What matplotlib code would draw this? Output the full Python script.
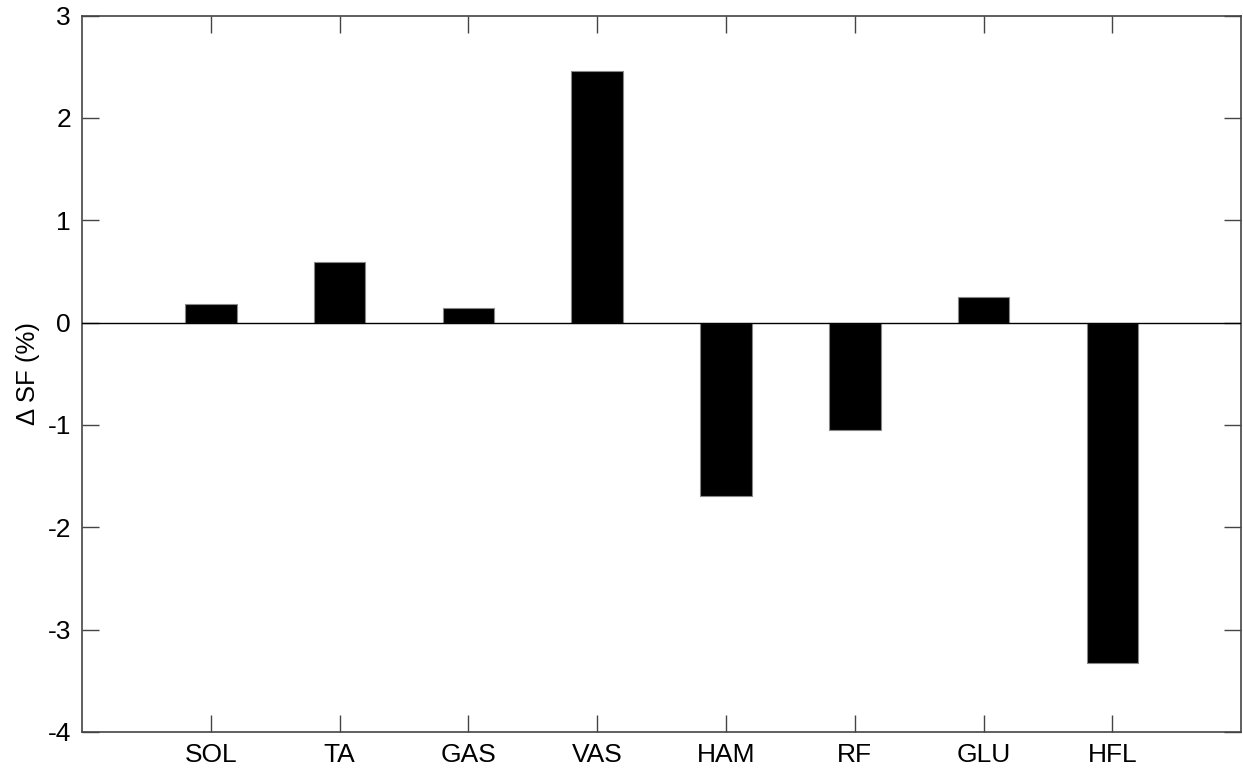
import numpy as np
import matplotlib.pyplot as plt

plt.rcParams['font.family'] = ['Liberation Sans', 'DejaVu Sans']
plt.rcParams['axes.unicode_minus'] = False

muscles = ['SOL', 'TA', 'GAS', 'VAS', 'HAM', 'RF', 'GLU', 'HFL']
delta_sf = [0.18, 0.595, 0.143, 2.455, -1.694, -1.049, 0.247, -3.325]

fig = plt.figure(figsize=(12.43, 7.75), dpi=100)
ax = fig.add_axes([0.066, 0.0555, 0.9325, 0.9245])

x = np.arange(1, len(muscles) + 1)
ax.bar(x, delta_sf, width=0.4, color='black', edgecolor='#888888', linewidth=0.8, zorder=2)
ax.axhline(0, color='black', linewidth=1.0, zorder=3)

ax.set_xlim(0, 9)
ax.set_ylim(-4, 3)
ax.set_xticks(x)
ax.set_xticklabels(muscles)
ax.set_yticks(range(-4, 4))
ax.set_ylabel('\u0394 SF (%)', fontsize=18.5, labelpad=5)

ax.tick_params(direction='in', length=12, width=1, color='#444444',
               labelsize=19, top=True, right=True, pad=8)
for s in ax.spines.values():
    s.set_color('#444444')
    s.set_linewidth(1.2)

fig.savefig('out.png', dpi=100)
